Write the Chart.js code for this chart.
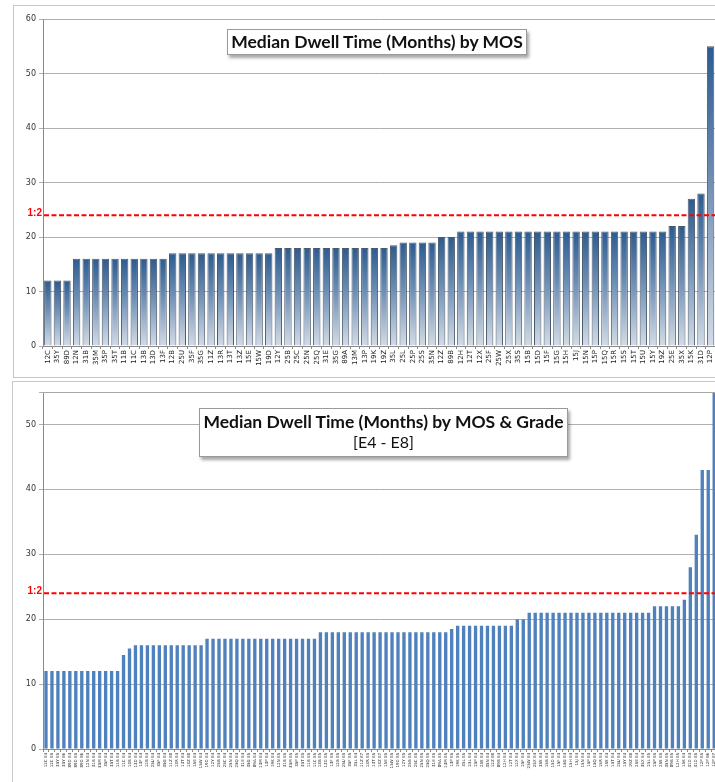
<!DOCTYPE html>
<html>
<head>
<meta charset="utf-8">
<script src="https://cdn.jsdelivr.net/npm/chart.js@4.4.0/dist/chart.umd.min.js"></script>
<style>
  html, body { margin:0; padding:0; background:#fff; }
  body { width:715px; height:782px; position:relative; overflow:hidden; }
  .frame { position:absolute; border:1px solid #c8c8c8; box-sizing:border-box; }
  .box { position:absolute; }
  .title { position:absolute; background:#fff; border:1px solid #9a9a9a; box-shadow:2px 3px 3px rgba(0,0,0,0.35);
           font-family:'Lato', 'Open Sans', sans-serif; color:#111; text-align:center; box-sizing:border-box; white-space:nowrap; }
  .title .t1 { font-weight:bold; font-size:17.5px; }
  .title .t2 { font-weight:normal; font-size:16px; }
</style>
</head>
<body>
<div class="frame" style="left:13px; top:5px; width:720px; height:373px;"></div>
<div class="frame" style="left:12px; top:381px; width:720px; height:420px;"></div>
<div class="box" style="left:0; top:0; width:720px; height:378px;"><canvas id="c1"></canvas></div>
<div class="box" style="left:0; top:378px; width:720px; height:404px;"><canvas id="c2"></canvas></div>
<div class="title" id="title1" style="left:227px; top:29px; width:300px; height:26px; line-height:24px;"><span class="t1">Median Dwell Time (Months) by MOS</span></div>
<div class="title" id="title2" style="left:199px; top:408px; width:369px; height:49px; line-height:20px; padding-top:3px;"><div class="t1">Median Dwell Time (Months) by MOS &amp; Grade</div><div class="t2">[E4 - E8]</div></div>
<script>
// ---------- DATA ----------
const topTitle = "Median Dwell Time (Months) by MOS";
const bottomTitle = "Median Dwell Time (Months) by MOS & Grade";
const bottomSubtitle = "[E4 - E8]";

const refValue = 24;
const refLabel = "1:2";

const topCategories = [
  "12C","35Y","89D","12N","31B","35M","35P","35T","11B","11C","13B","13D","13F",
  "12B","25U","35F","35G","11Z","13R","13T","13Z","15E","15W","19D",
  "12Y","25B","25C","25N","25Q","31E","35G","89A","13M","13P","19K","19Z",
  "35L","25L","25P","25S","35N","12Z","89B",
  "12H","12T","12X","25F","25W","25X","35S","15B","15D","15F","15G","15H","15J","15N",
  "15P","15Q","15R","15S","15T","15U","15Y","19Z","25E","35X","15K","31D","12P"
];
const topValues = [
  12,12,12,16,16,16,16,16,16,16,16,16,16,
  17,17,17,17,17,17,17,17,17,17,17,
  18,18,18,18,18,18,18,18,18,18,18,18,
  18.5,19,19,19,19,20,20,
  21,21,21,21,21,21,21,21,21,21,21,21,21,21,
  21,21,21,21,21,21,21,21,22,22,27,28,55
];
const topYTicks = [0,10,20,30,40,50,60];

const bottomCategories = [
  "12C E4","12C E5","35Y E5","35Y E6","89D E4","89D E5","89D E6","12N E4","31B E4","35M E4","35P E4","35T E4","11B E4",
  "11C E4","13B E4",
  "13D E4","13F E4","12B E4","25U E4","35F E4","35G E4","11Z E8","13R E4","13T E4","13Z E8","15E E4","15W E4",
  "19D E4","12Y E4","25B E4","25C E4","25N E4","25Q E4","31E E4","35G E5","89A E4","13M E4","13P E4","19K E4","12N E5","31B E5","35M E5","35P E5","35T E5","11B E5","11C E5",
  "13B E5","13D E5","13F E5","12B E5","25U E5","35F E5","35L E4","11Z E7","13R E5","13T E5","13Z E7","15E E5","15W E5","19D E5","12Y E5","25B E5","25C E5","25N E5","25Q E5","31E E5","89A E5","13M E5",
  "13P E5",
  "19K E5","35L E5","25L E4","25P E4","25S E4","35N E4","12Z E8","89B E4","12H E4","12T E4",
  "12X E4","25F E4",
  "25W E4","25X E4","35S E4","15B E4","15D E4","15F E4","15G E4","15H E4","15J E4","15N E4","15P E4","15Q E4","15R E4","15S E4","15T E4","15U E4","15Y E4","19Z E8","25E E4","35X E4","25L E5",
  "25P E5","25S E5","35N E5","89B E5","12H E5",
  "15K E4","31D E4","31D E5","12P E5","12P E6","12P E7"
];
const bottomValues = [
  12,12,12,12,12,12,12,12,12,12,12,12,12,
  14.5,15.5,
  16,16,16,16,16,16,16,16,16,16,16,16,
  17,17,17,17,17,17,17,17,17,17,17,17,17,17,17,17,17,17,17,
  18,18,18,18,18,18,18,18,18,18,18,18,18,18,18,18,18,18,18,18,18,18,
  18.5,
  19,19,19,19,19,19,19,19,19,19,
  20,20,
  21,21,21,21,21,21,21,21,21,21,21,21,21,21,21,21,21,21,21,21,21,
  22,22,22,22,22,
  23,28,33,43,43,55
];
const bottomYTicks = [0,10,20,30,40,50];

// ---------- PLUGINS ----------
const refLinePlugin = {
  id: 'refLine',
  afterDatasetsDraw(chart, args, opts) {
    const { ctx, chartArea, scales } = chart;
    const py = scales.y.getPixelForValue(opts.value);
    ctx.save();
    ctx.strokeStyle = '#ff0000';
    ctx.lineWidth = 2;
    ctx.setLineDash([5, 2.5]);
    ctx.beginPath();
    ctx.moveTo(chartArea.left + 1, py);
    ctx.lineTo(chartArea.right, py);
    ctx.stroke();
    ctx.setLineDash([]);
    ctx.fillStyle = '#ff0000';
    ctx.font = 'bold 10px "Liberation Sans"';
    ctx.textAlign = 'right';
    ctx.textBaseline = 'alphabetic';
    ctx.fillText(opts.label, chartArea.left - 1, py + 1);
    ctx.restore();
  }
};
const topBorderPlugin = {
  id: 'topBorder',
  afterDraw(chart, args, opts) {
    if (!opts.enabled) return;
    const { ctx, chartArea } = chart;
    ctx.save();
    ctx.strokeStyle = '#a8a8a8';
    ctx.lineWidth = 1;
    ctx.beginPath();
    ctx.moveTo(chartArea.left, chartArea.top + 0.5);
    ctx.lineTo(chartArea.right, chartArea.top + 0.5);
    ctx.stroke();
    ctx.restore();
  }
};

function gradientFill(c) {
  const chart = c.chart;
  if (!chart.chartArea || c.type !== 'data') return '#4f7aaa';
  const y = chart.scales.y;
  const top = y.getPixelForValue(c.raw);
  const bot = y.getPixelForValue(0);
  const g = chart.ctx.createLinearGradient(0, top, 0, bot);
  g.addColorStop(0, '#2d5b8f');
  g.addColorStop(0.45, '#6f8fb4');
  g.addColorStop(1, '#d3dce7');
  return g;
}

function makeOptions(ymax, ticks, padTop, xHeight, xFontSize) {
  return {
    responsive: true,
    maintainAspectRatio: false,
    animation: false,
    layout: { padding: { top: padTop, left: 0, right: 0, bottom: 0 } },
    plugins: { legend: { display: false }, tooltip: { enabled: false } },
    scales: {
      x: {
        offset: true,
        ticks: { autoSkip: false, minRotation: 90, maxRotation: 90, padding: 1,
                 font: { family: 'DejaVu Sans', size: xFontSize }, color: '#222' },
        grid: { drawOnChartArea: false, tickLength: 3, color: '#8a8a8a', offset: true },
        border: { color: '#8a8a8a' },
        afterFit(s) { s.height = xHeight; }
      },
      y: {
        min: 0, max: ymax,
        afterBuildTicks(s) {
          const t = ticks.map(v => ({ value: v }));
          if (ticks[ticks.length - 1] !== ymax) t.push({ value: ymax });
          s.ticks = t;
        },
        ticks: { padding: 3, font: { family: 'DejaVu Sans', size: 8 }, color: '#333',
                 callback: (v) => ticks.includes(v) ? String(v) : '' },
        grid: { color: '#b0b0b0', tickLength: 4 },
        border: { color: '#8a8a8a' },
        afterFit(s) { s.width = 43; }
      }
    }
  };
}

const opt1 = makeOptions(60, topYTicks, 19, 32, 7);
opt1.plugins.refLine = { value: refValue, label: refLabel };
opt1.plugins.topBorder = { enabled: false };
new Chart(document.getElementById('c1'), {
  type: 'bar',
  data: {
    labels: topCategories,
    datasets: [{
      data: topValues,
      backgroundColor: gradientFill,
      borderColor: '#4a5a6c',
      borderWidth: 1,
      barPercentage: 0.77,
      categoryPercentage: 1.0
    }]
  },
  options: opt1,
  plugins: [refLinePlugin, topBorderPlugin]
});

const opt2 = makeOptions(55, bottomYTicks, 14, 33, 4);
opt2.plugins.refLine = { value: refValue, label: refLabel };
opt2.plugins.topBorder = { enabled: true };
new Chart(document.getElementById('c2'), {
  type: 'bar',
  data: {
    labels: bottomCategories,
    datasets: [{
      data: bottomValues,
      backgroundColor: '#4f81bd',
      borderWidth: 0,
      barPercentage: 0.56,
      categoryPercentage: 1.0
    }]
  },
  options: opt2,
  plugins: [refLinePlugin, topBorderPlugin]
});
</script>
</body>
</html>
